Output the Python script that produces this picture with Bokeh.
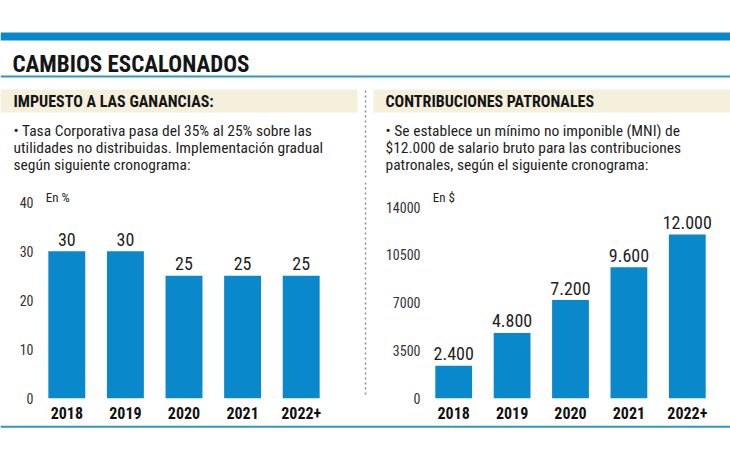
from bokeh.plotting import figure
from bokeh.layouts import column, row
from bokeh.models import Range1d, FactorRange, FixedTicker
from bokeh.core.properties import value
from bokeh.embed import file_html
from bokeh.resources import INLINE

# ---------------- data ----------------
years = ["2018", "2019", "2020", "2021", "2022+"]
tasa = [30, 30, 25, 25, 25]
mni = [2400, 4800, 7200, 9600, 12000]
tasa_ticks = [0, 10, 20, 30, 40]
mni_ticks = [0, 3500, 7000, 10500, 14000]
tasa_labels = [str(v) for v in tasa]
mni_labels = [f"{v:,}".replace(",", ".") for v in mni]

title = "CAMBIOS ESCALONADOS"
left_head = "IMPUESTO A LAS GANANCIAS:"
right_head = "CONTRIBUCIONES PATRONALES"
left_body = [
    "\u2022 Tasa Corporativa pasa del 35% al 25% sobre las",
    "utilidades no distribuidas. Implementaci\u00f3n gradual",
    "seg\u00fan siguiente cronograma:",
]
right_body = [
    "\u2022 Se establece un m\u00ednimo no imponible (MNI) de",
    "$12.000 de salario bruto para las contribuciones",
    "patronales, seg\u00fan el siguiente cronograma:",
]
left_unit = "En %"
right_unit = "En $"

# ---------------- styles ----------------
FONT = "Roboto Condensed"
BLUE = "#0a88cc"
LINE_BLUE = "#3392cf"
BEIGE = "#f4f0dc"
DOT = "#8c8c8c"
TXT = "#1e1e1e"


def blank(width, height):
    p = figure(width=width, height=height,
               x_range=Range1d(0, width), y_range=Range1d(height, 0),
               x_axis_location=None, y_axis_location=None,
               min_border=0, min_border_left=0, min_border_right=0,
               min_border_top=0, min_border_bottom=0,
               output_backend="svg", toolbar_location=None)
    p.outline_line_color = None
    p.grid.visible = False
    p.background_fill_color = "white"
    p.border_fill_color = "white"
    return p


# ---------------- header ----------------
header = blank(730, 180)
header.quad(left=[0], right=[730], top=[32], bottom=[40], color=BLUE, line_color=None)
header.text(x=[12], y=[63.5], text=[title], text_font=value(FONT), text_font_size="23px",
            text_font_style="bold", text_color="#151515", text_baseline="middle")
header.quad(left=[0], right=[730], top=[75], bottom=[77], color=LINE_BLUE, line_color=None)
header.quad(left=[0, 373], right=[357, 730], top=[89, 89], bottom=[112, 112],
            color=BEIGE, line_color=None)
header.text(x=[13, 385], y=[100.5, 100.5], text=[left_head, right_head], text_font=value(FONT),
            text_font_size="16px", text_font_style="bold", text_color="#151515",
            text_baseline="middle")
for i in range(3):
    yc = 130.5 + 17 * i
    header.text(x=[13, 385], y=[yc, yc], text=[left_body[i], right_body[i]],
                text_font=value(FONT), text_font_size="15.5px", text_color=TXT,
                text_baseline="middle")
header.segment(x0=[365], y0=[90], x1=[365], y1=[180], line_color=DOT,
               line_width=1.5, line_dash="2 3")


# ---------------- charts ----------------
def chart(vals, labels, ticks, ymax, unit, unit_y, b_left, b_right):
    p = figure(width=362, height=245,
               x_range=FactorRange(*years), y_range=Range1d(0, ymax),
               min_border_left=b_left, min_border_right=b_right,
               min_border_top=2, min_border_bottom=27,
               output_backend="svg", toolbar_location=None)
    p.outline_line_color = None
    p.grid.visible = False
    p.background_fill_color = "white"
    p.border_fill_color = "white"
    p.vbar(x=years, top=vals, width=0.63, color=BLUE, line_color=None)
    p.text(x=years, y=vals, text=labels, text_align="center", text_baseline="middle",
           y_offset=-12, text_font=value(FONT), text_font_size="18px", text_color=TXT)
    p.text(x=[years[0]], y=[unit_y], text=[unit], x_offset=-21, text_align="left",
           text_baseline="middle", text_font=value(FONT), text_font_size="13px",
           text_color=TXT)
    xa = p.xaxis[0]
    xa.axis_line_color = None
    xa.major_tick_line_color = None
    xa.minor_tick_line_color = None
    xa.major_tick_out = 0
    xa.major_tick_in = 0
    xa.major_label_standoff = 8
    xa.major_label_text_font = FONT
    xa.major_label_text_font_style = "bold"
    xa.major_label_text_font_size = "16px"
    xa.major_label_text_color = "#111111"
    ya = p.yaxis[0]
    ya.ticker = FixedTicker(ticks=ticks)
    ya.axis_line_color = None
    ya.major_tick_line_color = None
    ya.minor_tick_line_color = None
    ya.major_tick_out = 0
    ya.major_tick_in = 0
    ya.major_label_standoff = 4
    ya.major_label_text_font = FONT
    ya.major_label_text_font_size = "14px"
    ya.major_label_text_color = "#333333"
    return p


left = chart(tasa, tasa_labels, tasa_ticks, 44, left_unit, 41, 37, 32)
right = chart(mni, mni_labels, mni_ticks, 15800, right_unit, 14700, 56, 14)

sep = blank(6, 245)
sep.segment(x0=[3], y0=[0], x1=[3], y1=[243], line_color=DOT, line_width=1.5, line_dash="2 3")

footer = blank(730, 35)
footer.quad(left=[0], right=[730], top=[0], bottom=[2.2], color=LINE_BLUE, line_color=None)

layout = column(header, row(left, sep, right), footer)

open("out.html", "w").write(file_html(layout, INLINE))
